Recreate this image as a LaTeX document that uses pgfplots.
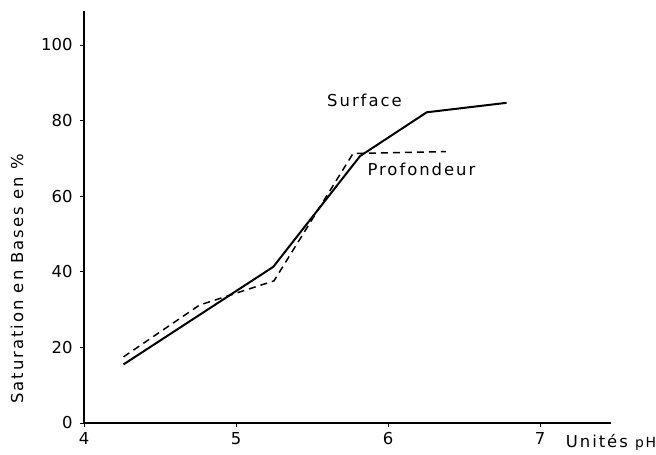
\documentclass[border=0pt]{standalone}
\usepackage{fontspec}
\setmainfont{DejaVu Sans}[LetterSpace=12]
\newfontfamily\tickfont{DejaVu Sans}
\usepackage{pgfplots}
\pgfplotsset{compat=1.18}
\begin{document}
\begin{tikzpicture}
\path[use as bounding box] (-84bp,-32bp) rectangle (572bp,423bp);
\begin{axis}[
  at={(0,0)}, anchor=south west,
  x=152bp, y=3.78bp,
  xmin=4, xmax=7.47, ymin=0, ymax=109,
  axis lines=left,
  axis line style={-, line width=1.1bp},
  tick align=outside,
  major tick length=4bp,
  tick style={line width=0.9bp, black},
  xtick={4,5,6,7}, ytick={0,20,40,60,80,100},
  /pgf/number format/assume math mode=true,
  tick label style={font=\tickfont\fontsize{16.5}{18}\selectfont},
  yticklabel style={xshift=-4bp},
  xticklabel style={yshift=-2bp},
  clip=false,
]
\addplot[black, line width=2bp] coordinates {
  (4.26,15.5) (5.245,41.3) (5.816,70.6) (6.255,82.2) (6.78,84.7)
};
\addplot[black, line width=1.5bp, dash pattern=on 7bp off 5bp] coordinates {
  (4.26,17.5) (4.76,31.2) (5.25,37.6) (5.77,71.3) (6.38,71.8)
};
\node[font=\fontsize{16.5}{18}\selectfont] at (axis cs:5.845,85.4) {Surface};
\node[font=\fontsize{16.5}{18}\selectfont] at (axis cs:6.22,67.2) {Profondeur};
\node[font=\fontsize{16.5}{18}\selectfont, rotate=90] at (axis cs:3.559,38.1) {Saturation en Bases en \%};
\node[font=\fontsize{16.5}{18}\selectfont] at (axis cs:7.467,-5.0) {Unités {\fontsize{14}{15}\selectfont pH}};
\end{axis}
\end{tikzpicture}
\end{document}
